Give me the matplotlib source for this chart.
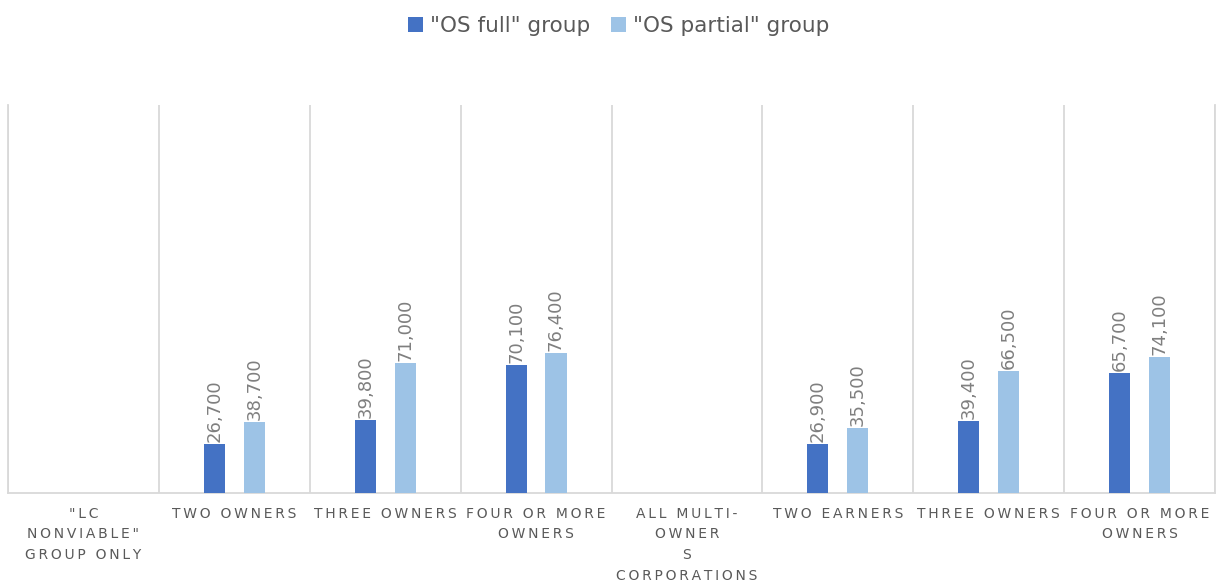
import matplotlib.pyplot as plt
import numpy as np

categories = [
    '"LC\nNONVIABLE"\nGROUP ONLY',
    "TWO OWNERS",
    "THREE OWNERS",
    "FOUR OR MORE\nOWNERS",
    "ALL MULTI-\nOWNER\nS\nCORPORATIONS",
    "TWO EARNERS",
    "THREE OWNERS",
    "FOUR OR MORE\nOWNERS",
]
os_full = [np.nan, 26700, 39800, 70100, np.nan, 26900, 39400, 65700]
os_partial = [np.nan, 38700, 71000, 76400, np.nan, 35500, 66500, 74100]
series = [
    ('"OS full" group', os_full, "#4472C4"),
    ('"OS partial" group', os_partial, "#9DC3E6"),
]

text_gray = "#595959"
label_gray = "#7F7F7F"
grid_gray = "#D9D9D9"


def spaced(label):
    # imitate the wide letter spacing of the original axis labels
    return "\n".join("\u2009".join(line) for line in label.split("\n"))


fig = plt.figure(figsize=(12.25, 5.83), dpi=100)
ax = fig.add_axes([8 / 1225, 90 / 583, 1207 / 1225, 388 / 583])

x = np.arange(len(categories))
width = 0.14
offsets = [-0.132, 0.132]
for (name, values, color), off in zip(series, offsets):
    vals = np.array(values, dtype=float)
    ax.bar(x + off, vals, width=width, color=color, label=name, zorder=3)
    for xi, v in zip(x + off, vals):
        if np.isnan(v):
            continue
        ax.annotate(
            f"{v:,.0f}",
            (xi, v),
            xytext=(0, 1.5),
            textcoords="offset points",
            rotation=90,
            ha="center",
            va="bottom",
            fontsize=13,
            color=label_gray,
        )

ax.set_xlim(-0.5, len(categories) - 0.5)
ax.set_ylim(0, 212000)
ax.set_yticks([])
ax.set_xticks(x)
ax.set_xticklabels([spaced(c) for c in categories], fontsize=10,
                   color=text_gray, linespacing=1.6)
ax.tick_params(axis="x", length=0, pad=10)
ax.set_xticks(np.arange(-0.5, len(categories)), minor=True)
ax.tick_params(axis="x", which="minor", length=0)
ax.grid(axis="x", which="minor", color=grid_gray, linewidth=1.3, zorder=0)
ax.grid(axis="x", which="major", visible=False)
ax.spines["top"].set_visible(False)
for side in ["left", "right", "bottom"]:
    ax.spines[side].set_color(grid_gray)
    ax.spines[side].set_linewidth(1.3)

fig.legend(
    loc="upper center",
    bbox_to_anchor=(0.505, 1.006),
    ncol=2,
    frameon=False,
    fontsize=15.5,
    labelcolor=text_gray,
    handlelength=0.7,
    handleheight=0.7,
    handletextpad=0.3,
    columnspacing=1.0,
)

fig.savefig("out.png", dpi=100)
